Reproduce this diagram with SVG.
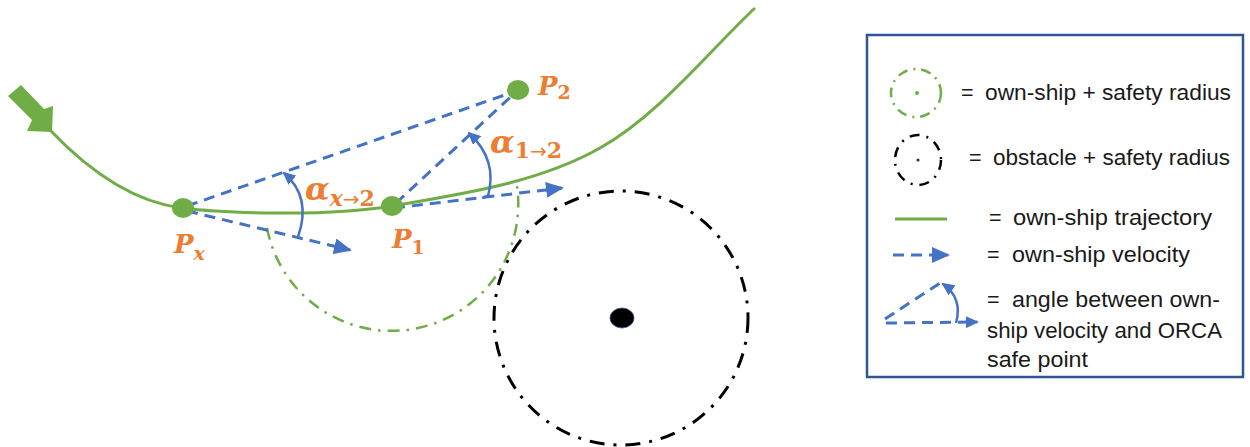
<svg xmlns="http://www.w3.org/2000/svg" width="1250" height="447" viewBox="0 0 1250 447">
<defs>
<style>
.traj{fill:none;stroke:#70AD47;stroke-width:3}
.vel{fill:none;stroke:#4472C4;stroke-width:3;stroke-dasharray:11 7}
.ang{fill:none;stroke:#4472C4;stroke-width:2.5}
.gdd{fill:none;stroke:#70AD47;stroke-width:2.5;stroke-dasharray:12 7 2.5 7}
.bdd{fill:none;stroke:#000;stroke-width:3;stroke-dasharray:15 9 3 9}
.dot{fill:#70AD47}
.lbl{font-family:"DejaVu Serif",serif;font-weight:bold;font-style:italic;fill:#ED7D31}
.up{font-style:normal}
.arr{font-family:"DejaVu Sans",sans-serif;font-weight:normal;font-style:normal}
.leg{font-family:"Liberation Sans",Arial,sans-serif;font-size:21.5px;fill:#1a1a1a}
</style>
<marker id="ah" markerUnits="userSpaceOnUse" markerWidth="18" markerHeight="16" refX="16" refY="8" orient="auto" viewBox="0 0 18 16">
<path d="M0,0 L18,8 L0,16 z" fill="#4472C4"/>
</marker>
<marker id="ahs" markerUnits="userSpaceOnUse" markerWidth="13" markerHeight="12" refX="11" refY="6" orient="auto" viewBox="0 0 13 12">
<path d="M0,0 L13,6 L0,12 z" fill="#4472C4"/>
</marker>
</defs>
<rect width="1250" height="447" fill="#fff"/>

<g id="trajectory">
<polygon points="8,96 21,85 44,109 53,106 52,132 27,131 32,120" fill="#70AD47"/>
<path class="traj" d="M50,130 C105,188 150,204 182,208 S320,218 392,206 S540,182 600,148 S710,50 755,8"/>
</g>

<g id="obstacle">
<circle class="bdd" cx="621" cy="318" r="127"/>
<ellipse cx="622" cy="318" rx="12" ry="10" fill="#000" stroke="#2F5597" stroke-width="0.8"/>
</g>

<g id="safety-radius">
<path class="gdd" d="M267,228 A126,126 0 1 0 516,180"/>
</g>

<g id="connectors">
<path class="vel" d="M187,206 L516,91"/>
<path class="vel" d="M396,203 L516,92"/>
<path class="vel" d="M187,211 L350,250" marker-end="url(#ah)"/>
<path class="vel" d="M394,208 L562,188" marker-end="url(#ah)"/>
<path class="ang" d="M298,237 Q312,197 284,173" marker-end="url(#ahs)"/>
<path class="ang" d="M482,198 L488,196 Q498,160 469,133" marker-end="url(#ahs)"/>
</g>

<g id="node-px">
<ellipse class="dot" cx="183" cy="208" rx="11" ry="10"/>
<text class="lbl" x="174" y="253" font-size="26">P<tspan font-size="19" dy="7">x</tspan></text>
</g>
<g id="node-p1">
<ellipse class="dot" cx="392" cy="206" rx="11" ry="10"/>
<text class="lbl" x="392" y="248" font-size="26">P<tspan class="up" font-size="19" dy="6">1</tspan></text>
</g>
<g id="node-p2">
<ellipse class="dot" cx="518" cy="90" rx="11" ry="10"/>
<text class="lbl" x="538" y="95" font-size="26">P<tspan class="up" font-size="19" dy="4">2</tspan></text>
</g>
<g id="label-ax2">
<text class="lbl" x="305" y="200" font-size="32">α<tspan font-size="22" dy="6">x</tspan><tspan class="arr" font-size="20">→</tspan><tspan class="up" font-size="22">2</tspan></text>
</g>
<g id="label-a12">
<text class="lbl" x="490" y="153" font-size="32">α<tspan class="up" font-size="22" dy="5">1</tspan><tspan class="arr" font-size="20">→</tspan><tspan class="up" font-size="22">2</tspan></text>
</g>

<g id="legend">
<rect x="867" y="35" width="376" height="342" fill="#fff" stroke="#2F5597" stroke-width="2.5"/>
<ellipse cx="916" cy="93" rx="25" ry="24" fill="none" stroke="#70AD47" stroke-width="2.5" stroke-dasharray="10 6 2 6"/>
<circle cx="917" cy="93" r="2" fill="#70AD47"/>
<text class="leg" x="961" y="100">=</text>
<text class="leg" x="985" y="100" textLength="246" lengthAdjust="spacingAndGlyphs">own-ship + safety radius</text>
<ellipse cx="918" cy="160" rx="23" ry="25" fill="none" stroke="#000" stroke-width="2.5" stroke-dasharray="10 7 2 7"/>
<circle cx="918" cy="160" r="1.6" fill="#1F3864"/>
<text class="leg" x="969" y="165">=</text>
<text class="leg" x="993" y="165" textLength="237" lengthAdjust="spacingAndGlyphs">obstacle + safety radius</text>
<line x1="895" y1="219" x2="947" y2="219" stroke="#70AD47" stroke-width="3"/>
<text class="leg" x="989" y="225">=</text>
<text class="leg" x="1013" y="225" textLength="199" lengthAdjust="spacingAndGlyphs">own-ship trajectory</text>
<path class="vel" d="M893,255 L948,255" stroke-dasharray="9 7" marker-end="url(#ah)"/>
<text class="leg" x="987" y="262">=</text>
<text class="leg" x="1012" y="262" textLength="178" lengthAdjust="spacingAndGlyphs">own-ship velocity</text>
<path class="vel" d="M885,319 L940,283" stroke-dasharray="9 7"/>
<path class="vel" d="M886,323 L977,322" stroke-dasharray="9 7" marker-end="url(#ahs)"/>
<path class="ang" d="M956,323 Q963,298 943,284" marker-end="url(#ahs)"/>
<text class="leg" x="987" y="307">=</text>
<text class="leg" x="1012" y="307" textLength="208" lengthAdjust="spacingAndGlyphs">angle between own-</text>
<text class="leg" x="987" y="338" textLength="235" lengthAdjust="spacingAndGlyphs">ship velocity and ORCA</text>
<text class="leg" x="987" y="367" textLength="101" lengthAdjust="spacingAndGlyphs">safe point</text>
</g>
</svg>
